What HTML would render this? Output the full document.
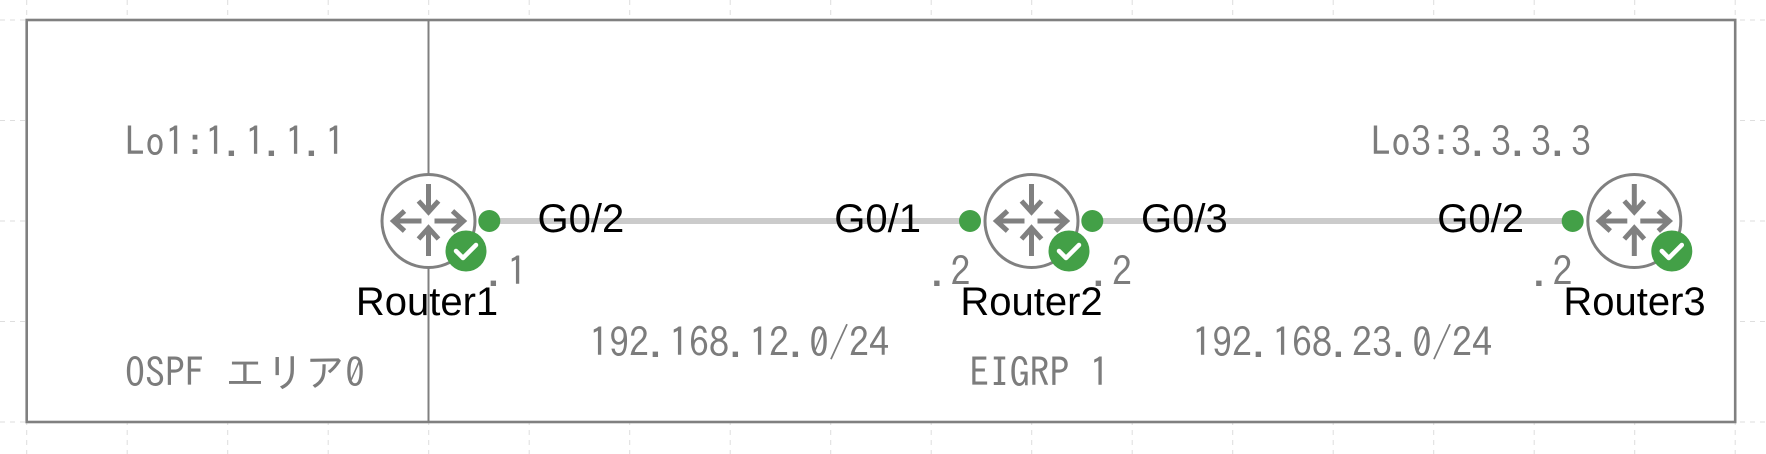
<!DOCTYPE html>
<html>
<head>
<meta charset="utf-8">
<style>
  html, body { margin: 0; padding: 0; background: #ffffff; }
  svg { display: block; }
  .g { font-family: "IPAGothic", "Liberation Mono", monospace; font-size: 40px; fill: #7c7c7c; }
  .b { font-family: "Liberation Sans", Arial, sans-serif; font-size: 40px; fill: #000000; }
</style>
</head>
<body>
<svg xmlns="http://www.w3.org/2000/svg" width="1766" height="454" viewBox="0 0 1766 454">
  <defs>
    <g id="router">
      <circle cx="0" cy="0" r="46.5" fill="#ffffff" stroke="#808080" stroke-width="3"/>
      <g stroke="#808080" stroke-width="5" fill="none" stroke-linejoin="miter" stroke-linecap="butt">
        <!-- top arrow pointing down -->
        <line x1="0" y1="-37" x2="0" y2="-10"/>
        <polyline points="-10,-20 0,-9 10,-20"/>
        <!-- bottom arrow pointing up -->
        <line x1="0" y1="35" x2="0" y2="8"/>
        <polyline points="-10,18 0,7 10,18"/>
        <!-- left arrow -->
        <line x1="-7" y1="0" x2="-34" y2="0"/>
        <polyline points="-24,-10 -35,0 -24,10"/>
        <!-- right arrow -->
        <line x1="6" y1="0" x2="34" y2="0"/>
        <polyline points="24,-10 35,0 24,10"/>
      </g>
      <circle cx="37.5" cy="30" r="20.5" fill="#43a047"/>
      <polyline points="27.5,30 34.5,37 47.5,24" fill="none" stroke="#ffffff" stroke-width="4.5" stroke-linecap="round" stroke-linejoin="round"/>
    </g>
  </defs>

  <!-- grid -->
  <g stroke="#dedede" stroke-width="1" stroke-dasharray="5 5">
    <line x1="26.7" y1="0" x2="26.7" y2="454"/>
    <line x1="127.2" y1="0" x2="127.2" y2="454"/>
    <line x1="227.7" y1="0" x2="227.7" y2="454"/>
    <line x1="328.2" y1="0" x2="328.2" y2="454"/>
    <line x1="428.7" y1="0" x2="428.7" y2="454"/>
    <line x1="529.2" y1="0" x2="529.2" y2="454"/>
    <line x1="629.7" y1="0" x2="629.7" y2="454"/>
    <line x1="730.2" y1="0" x2="730.2" y2="454"/>
    <line x1="830.7" y1="0" x2="830.7" y2="454"/>
    <line x1="931.2" y1="0" x2="931.2" y2="454"/>
    <line x1="1031.7" y1="0" x2="1031.7" y2="454"/>
    <line x1="1132.2" y1="0" x2="1132.2" y2="454"/>
    <line x1="1232.7" y1="0" x2="1232.7" y2="454"/>
    <line x1="1333.2" y1="0" x2="1333.2" y2="454"/>
    <line x1="1433.7" y1="0" x2="1433.7" y2="454"/>
    <line x1="1534.2" y1="0" x2="1534.2" y2="454"/>
    <line x1="1634.7" y1="0" x2="1634.7" y2="454"/>
    <line x1="1735.2" y1="0" x2="1735.2" y2="454"/>
    <line x1="0" y1="20" x2="1766" y2="20"/>
    <line x1="0" y1="120.5" x2="1766" y2="120.5"/>
    <line x1="0" y1="221" x2="1766" y2="221"/>
    <line x1="0" y1="321.5" x2="1766" y2="321.5"/>
    <line x1="0" y1="422" x2="1766" y2="422"/>
  </g>

  <!-- outer rectangle -->
  <rect x="26.7" y="20" width="1708.5" height="402" fill="#ffffff" stroke="#808080" stroke-width="2.6"/>

  <!-- divider -->
  <line x1="428.5" y1="20" x2="428.5" y2="422" stroke="#808080" stroke-width="2"/>

  <!-- gray labels -->
  <text class="g" x="125" y="156">Lo1:1.1.1.1</text>
  <text class="g" x="1371" y="156">Lo3:3.3.3.3</text>
  <text class="g" x="125" y="387">OSPF エリア0</text>
  <text class="g" x="589" y="357">192.168.12.0/24</text>
  <text class="g" x="1192" y="357">192.168.23.0/24</text>
  <text class="g" x="969.5" y="387">EIGRP 1</text>

  <!-- links -->
  <line x1="489.3" y1="221" x2="970" y2="221" stroke="#cbcbcb" stroke-width="6"/>
  <line x1="1092.3" y1="221" x2="1572.7" y2="221" stroke="#cbcbcb" stroke-width="6"/>

  <!-- port dots -->
  <circle cx="489.3" cy="221" r="11" fill="#43a047"/>
  <circle cx="970" cy="221" r="11" fill="#43a047"/>
  <circle cx="1092.3" cy="221" r="11" fill="#43a047"/>
  <circle cx="1572.7" cy="221" r="11" fill="#43a047"/>

  <!-- routers -->
  <use href="#router" x="428.5" y="221"/>
  <use href="#router" x="1031.5" y="221"/>
  <use href="#router" x="1634.3" y="221"/>

  <!-- interface labels -->
  <text class="b" x="537.5" y="232">G0/2</text>
  <text class="b" x="921" y="232" text-anchor="end">G0/1</text>
  <text class="b" x="1141" y="232">G0/3</text>
  <text class="b" x="1524" y="232" text-anchor="end">G0/2</text>

  <!-- ip host labels -->
  <text class="g" x="487" y="286">.1</text>
  <text class="g" x="930.5" y="286">.2</text>
  <text class="g" x="1092" y="286">.2</text>
  <text class="g" x="1532.5" y="286">.2</text>

  <!-- router names -->
  <text class="b" x="427" y="315" text-anchor="middle">Router1</text>
  <text class="b" x="1031.5" y="315" text-anchor="middle">Router2</text>
  <text class="b" x="1634.5" y="315" text-anchor="middle">Router3</text>
</svg>
</body>
</html>
